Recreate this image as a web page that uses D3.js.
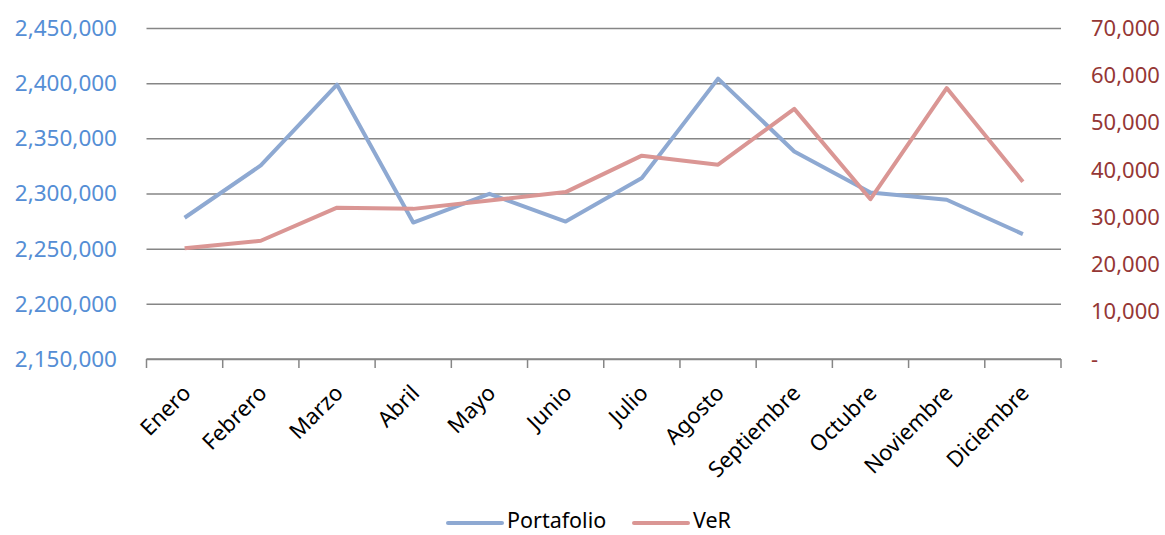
<!DOCTYPE html>
<html>
<head>
<meta charset="utf-8">
<script src="https://cdn.jsdelivr.net/npm/d3@7"></script>
<style>
  body { margin: 0; background: #fff; }
  svg { font-family: "Noto Sans", "Open Sans", sans-serif; }
  .grid line { stroke: #868686; stroke-width: 1.5; }
  .grid path { display: none; }
</style>
</head>
<body>
<svg width="1165" height="535"></svg>
<script>
var meses = ["Enero", "Febrero", "Marzo", "Abril", "Mayo", "Junio", "Julio",
             "Agosto", "Septiembre", "Octubre", "Noviembre", "Diciembre"];
var portafolio = [2278000, 2325400, 2398600, 2273700, 2299700, 2274600,
                  2314000, 2404100, 2338100, 2300900, 2294300, 2263200];
var ver = [23400, 25000, 32000, 31750, 33500, 35300,
           43000, 41100, 52900, 33800, 57300, 37500];
var leftTicks = [2150000, 2200000, 2250000, 2300000, 2350000, 2400000, 2450000];
var rightTicks = [0, 10000, 20000, 30000, 40000, 50000, 60000, 70000];

var svg = d3.select("svg"),
    margin = { top: 28, left: 146.5, right: 104, bottom: 176 },
    width = 1165,
    height = 535,
    fmt = d3.format(",");

var x = d3.scaleBand()
    .domain(meses)
    .range([margin.left, width - margin.right]);
var yL = d3.scaleLinear()
    .domain([2150000, 2450000])
    .range([height - margin.bottom, margin.top]);
var yR = d3.scaleLinear()
    .domain([0, 70000])
    .range([height - margin.bottom, margin.top]);

// horizontal gridlines
svg.append("g")
    .attr("class", "grid")
    .attr("transform", "translate(" + margin.left + ",0)")
    .call(d3.axisRight(yL).tickValues(leftTicks).tickSize(width - margin.right - margin.left).tickFormat(""));

// bottom axis with tick marks on band edges
var baseY = yL(2150000);
var edges = meses.map(function (m) { return x(m); }).concat([x.range()[1]]);
svg.append("g")
    .selectAll("line")
    .data(edges)
    .enter().append("line")
      .attr("x1", function (d) { return d; })
      .attr("x2", function (d) { return d; })
      .attr("y1", baseY)
      .attr("y2", baseY + 9)
      .attr("stroke", "#868686")
      .attr("stroke-width", 1.5);
svg.append("line")
    .attr("x1", x.range()[0]).attr("x2", x.range()[1])
    .attr("y1", baseY).attr("y2", baseY)
    .attr("stroke", "#868686").attr("stroke-width", 1.5);

// left axis labels
svg.append("g")
    .selectAll("text")
    .data(leftTicks)
    .enter().append("text")
      .attr("x", 117)
      .attr("y", function (d) { return yL(d); })
      .attr("dy", "0.35em")
      .attr("text-anchor", "end")
      .attr("fill", "#558ED5")
      .style("font-size", "22.5px")
      .text(fmt);

// right axis labels
svg.append("g")
    .selectAll("text")
    .data(rightTicks)
    .enter().append("text")
      .attr("x", 1091)
      .attr("y", function (d) { return yR(d); })
      .attr("dy", "0.35em")
      .attr("fill", "#953735")
      .style("font-size", "22px")
      .text(function (d) { return d === 0 ? "-" : fmt(d); });

// category labels
svg.append("g")
    .selectAll("text")
    .data(meses)
    .enter().append("text")
      .attr("transform", function (d) {
        return "translate(" + (x(d) + x.bandwidth() / 2 + 2) + "," + (baseY + 30) + ") rotate(-45)";
      })
      .attr("text-anchor", "end")
      .attr("dy", "0.35em")
      .attr("fill", "#000")
      .style("font-size", "22px")
      .text(function (d) { return d; });

// lines
var cx = function (d, i) { return x(meses[i]) + x.bandwidth() / 2; };
var lineL = d3.line().x(cx).y(function (d) { return yL(d); });
var lineR = d3.line().x(cx).y(function (d) { return yR(d); });

svg.append("path")
    .datum(portafolio)
    .attr("fill", "none")
    .attr("stroke", "#8EA9D2")
    .attr("stroke-width", 4)
    .attr("stroke-linejoin", "round")
    .attr("d", lineL);
svg.append("path")
    .datum(ver)
    .attr("fill", "none")
    .attr("stroke", "#DA9694")
    .attr("stroke-width", 4)
    .attr("stroke-linejoin", "round")
    .attr("d", lineR);

// legend
var legend = [
  { name: "Portafolio", color: "#8EA9D2", x: 448 },
  { name: "VeR", color: "#DA9694", x: 634 }
];
var lg = svg.append("g")
    .selectAll("g")
    .data(legend)
    .enter().append("g")
      .attr("transform", function (d) { return "translate(" + d.x + ",523)"; });
lg.append("line")
    .attr("x1", 0).attr("x2", 54)
    .attr("stroke", function (d) { return d.color; })
    .attr("stroke-width", 4)
    .attr("stroke-linecap", "round");
lg.append("text")
    .attr("x", 59)
    .attr("y", 5)
    .style("font-size", "21.5px")
    .text(function (d) { return d.name; });
</script>
</body>
</html>
